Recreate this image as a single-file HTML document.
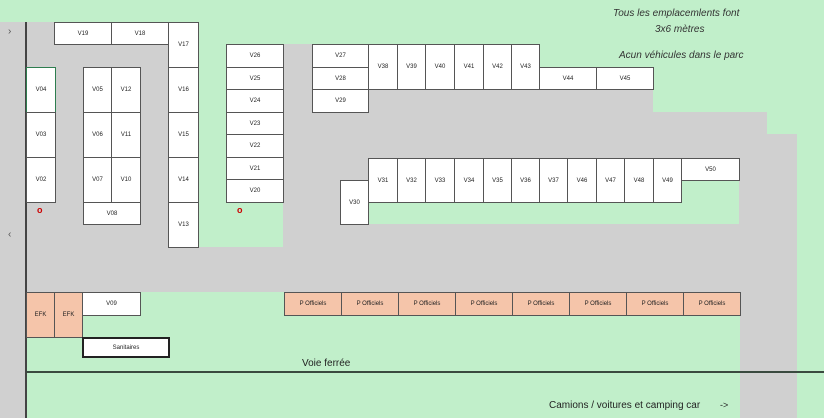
<!DOCTYPE html>
<html><head><meta charset="utf-8"><style>
body{margin:0;width:824px;height:418px;position:relative;overflow:hidden;background:#c1efca;font-family:"Liberation Sans",sans-serif}
div{position:absolute;box-sizing:border-box}
.g{background:#d0d0d0}
.c{background:#fff;border:1px solid #555;font-size:6px;display:flex;align-items:center;justify-content:center;color:#222}
.o{background:#f5c5aa}
.t{font-size:10px;font-style:italic;color:#333;white-space:nowrap}
</style></head><body>
<div class="g" style="left:0;top:22px;width:198px;height:270px"></div>
<div class="g" style="left:0;top:22px;width:26px;height:396px"></div>
<div class="g" style="left:0;top:247px;width:797px;height:45px"></div>
<div class="g" style="left:283px;top:44px;width:257px;height:203px"></div>
<div class="g" style="left:283px;top:67px;width:370px;height:180px"></div>
<div class="g" style="left:283px;top:112px;width:484px;height:135px"></div>
<div class="g" style="left:283px;top:134px;width:514px;height:113px"></div>
<div class="g" style="left:740px;top:134px;width:57px;height:284px"></div>
<div style="left:368px;top:158px;width:371px;height:66px;background:#c1efca"></div>
<div style="left:198px;top:22px;width:85px;height:225px;background:#c1efca"></div>
<div style="left:25px;top:22px;width:2px;height:396px;background:#444"></div>
<div style="left:8px;top:26px;font-size:10px;color:#555">›</div>
<div style="left:8px;top:229px;font-size:10px;color:#555">‹</div>

<div class="c" style="left:54px;top:22px;width:58px;height:23px">V19</div>
<div class="c" style="left:111px;top:22px;width:58px;height:23px">V18</div>
<div class="c" style="left:168px;top:22px;width:31px;height:46px">V17</div>
<div class="c" style="left:168px;top:67px;width:31px;height:46px">V16</div>
<div class="c" style="left:168px;top:112px;width:31px;height:46px">V15</div>
<div class="c" style="left:168px;top:157px;width:31px;height:46px">V14</div>
<div class="c" style="left:168px;top:202px;width:31px;height:46px">V13</div>
<div class="c" style="left:26px;top:67px;width:30px;height:46px;border-color:#2e7d4f">V04</div>
<div class="c" style="left:26px;top:112px;width:30px;height:46px">V03</div>
<div class="c" style="left:26px;top:157px;width:30px;height:46px">V02</div>
<div class="c" style="left:83px;top:67px;width:29px;height:46px">V05</div>
<div class="c" style="left:111px;top:67px;width:30px;height:46px">V12</div>
<div class="c" style="left:83px;top:112px;width:29px;height:46px">V06</div>
<div class="c" style="left:111px;top:112px;width:30px;height:46px">V11</div>
<div class="c" style="left:83px;top:157px;width:29px;height:46px">V07</div>
<div class="c" style="left:111px;top:157px;width:30px;height:46px">V10</div>
<div class="c" style="left:83px;top:202px;width:58px;height:23px">V08</div>
<div style="left:37px;top:205px;font-size:9px;color:#c00;font-weight:bold">o</div>
<div style="left:237px;top:205px;font-size:9px;color:#c00;font-weight:bold">o</div>

<div class="c" style="left:226px;top:44px;width:58px;height:24px">V26</div>
<div class="c" style="left:226px;top:67px;width:58px;height:23px">V25</div>
<div class="c" style="left:226px;top:89px;width:58px;height:24px">V24</div>
<div class="c" style="left:226px;top:112px;width:58px;height:23px">V23</div>
<div class="c" style="left:226px;top:134px;width:58px;height:24px">V22</div>
<div class="c" style="left:226px;top:157px;width:58px;height:23px">V21</div>
<div class="c" style="left:226px;top:179px;width:58px;height:24px">V20</div>

<div class="c" style="left:312px;top:44px;width:57px;height:24px">V27</div>
<div class="c" style="left:312px;top:67px;width:57px;height:23px">V28</div>
<div class="c" style="left:312px;top:89px;width:57px;height:24px">V29</div>
<div class="c" style="left:368px;top:44px;width:30px;height:46px">V38</div>
<div class="c" style="left:397px;top:44px;width:29px;height:46px">V39</div>
<div class="c" style="left:425px;top:44px;width:30px;height:46px">V40</div>
<div class="c" style="left:454px;top:44px;width:30px;height:46px">V41</div>
<div class="c" style="left:483px;top:44px;width:29px;height:46px">V42</div>
<div class="c" style="left:511px;top:44px;width:29px;height:46px">V43</div>
<div class="c" style="left:539px;top:67px;width:58px;height:23px">V44</div>
<div class="c" style="left:596px;top:67px;width:58px;height:23px">V45</div>

<div class="c" style="left:340px;top:180px;width:29px;height:45px">V30</div>
<div class="c" style="left:368px;top:158px;width:30px;height:45px">V31</div>
<div class="c" style="left:397px;top:158px;width:29px;height:45px">V32</div>
<div class="c" style="left:425px;top:158px;width:30px;height:45px">V33</div>
<div class="c" style="left:454px;top:158px;width:30px;height:45px">V34</div>
<div class="c" style="left:483px;top:158px;width:29px;height:45px">V35</div>
<div class="c" style="left:511px;top:158px;width:29px;height:45px">V36</div>
<div class="c" style="left:539px;top:158px;width:29px;height:45px">V37</div>
<div class="c" style="left:567px;top:158px;width:30px;height:45px">V46</div>
<div class="c" style="left:596px;top:158px;width:29px;height:45px">V47</div>
<div class="c" style="left:624px;top:158px;width:30px;height:45px">V48</div>
<div class="c" style="left:653px;top:158px;width:29px;height:45px">V49</div>
<div class="c" style="left:681px;top:158px;width:59px;height:23px">V50</div>

<div class="c o" style="left:26px;top:292px;width:29px;height:46px">EFK</div>
<div class="c o" style="left:54px;top:292px;width:29px;height:46px">EFK</div>
<div class="c" style="left:82px;top:292px;width:59px;height:24px">V09</div>
<div class="c" style="left:82px;top:337px;width:88px;height:21px;border:2px solid #222">Sanitaires</div>
<div class="c o" style="left:284px;top:292px;width:58px;height:24px">P Officiels</div>
<div class="c o" style="left:341px;top:292px;width:58px;height:24px">P Officiels</div>
<div class="c o" style="left:398px;top:292px;width:58px;height:24px">P Officiels</div>
<div class="c o" style="left:455px;top:292px;width:58px;height:24px">P Officiels</div>
<div class="c o" style="left:512px;top:292px;width:58px;height:24px">P Officiels</div>
<div class="c o" style="left:569px;top:292px;width:58px;height:24px">P Officiels</div>
<div class="c o" style="left:626px;top:292px;width:58px;height:24px">P Officiels</div>
<div class="c o" style="left:683px;top:292px;width:58px;height:24px">P Officiels</div>

<div style="left:302px;top:358px;font-size:10px;color:#222">Voie ferrée</div>
<div style="left:26px;top:371px;width:798px;height:2px;background:#3a4a3f"></div>
<div style="left:549px;top:400px;font-size:10px;color:#222;white-space:nowrap">Camions / voitures et camping car</div>
<div style="left:720px;top:400px;font-size:9px;color:#222">-&gt;</div>

<div class="t" style="left:613px;top:8px">Tous les emplacemlents font</div>
<div class="t" style="left:655px;top:24px">3x6 mètres</div>
<div class="t" style="left:619px;top:50px">Acun véhicules dans le parc</div>
</body></html>
